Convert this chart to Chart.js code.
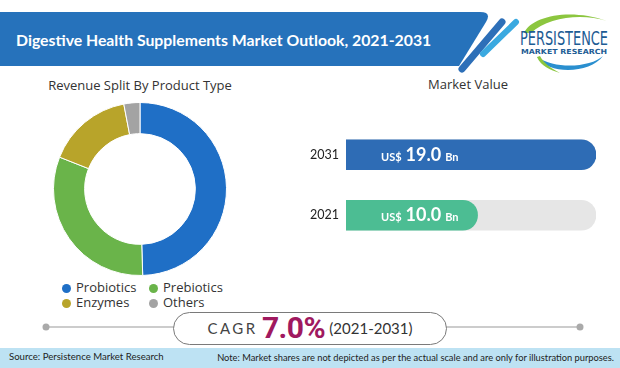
<!DOCTYPE html>
<html>
<head>
<meta charset="utf-8">
<script src="https://cdn.jsdelivr.net/npm/chart.js@4.4.1/dist/chart.umd.min.js"></script>
<style>
  html, body { margin: 0; padding: 0; }
  body { width: 620px; height: 368px; position: relative; overflow: hidden; background: #fff; font-family: 'Open Sans', sans-serif; color: #333; }
  .abs { position: absolute; }
  #title { left: 16px; top: 30px; color: #fff; font-family: Lato, sans-serif; font-weight: 700; font-size: 15.8px; white-space: nowrap; }
  .head { font-size: 13px; color: #333; white-space: nowrap; text-align: center; }
  .legend-item { font-size: 13px; color: #333; white-space: nowrap; }
  .legend-item span { display: inline-block; width: 9px; height: 9px; border-radius: 50%; margin-right: 5px; vertical-align: -0.5px; }
  #footer { left: 0; top: 348px; width: 620px; height: 20px; background: #bde2f3; }
  #footer div { position: absolute; font-family: Lato, sans-serif; color: #222; white-space: nowrap; }
  #cagr { left: 173px; top: 312px; width: 272px; height: 31px; border: 1px solid #7a7a7a; border-radius: 17px; background: #fff; }
</style>
</head>
<body>

<svg class="abs" style="left:0;top:0" width="620" height="90">
  <path d="M0 12 H480 Q492 12 486 22 L459 66 H0 Z" fill="#2672bb"/>
  <line x1="462" y1="69" x2="502" y2="22" stroke="#2d6fb8" stroke-width="7" stroke-linecap="round"/>
  <line x1="483" y1="54" x2="516" y2="22" stroke="#3aa9e0" stroke-width="6" stroke-linecap="round"/>
  <path d="M524 33 C532 16 570 8 607 21 C582 13 548 17 531 33 Z" fill="#8cc63f"/>
  <path d="M537 57 C548 75 590 74 603 56 C591 67 556 70 537 57 Z" fill="#2a8fcf"/>
  <path d="M537 57 C541 66 550 70 560 73 C550 68 543 62 540 56 Z" fill="#8cc63f"/>
  <text x="520" y="45" textLength="88" lengthAdjust="spacingAndGlyphs" font-family="'DejaVu Sans Condensed', 'Liberation Sans Narrow', sans-serif" font-size="19" fill="#1d5c94">PERSISTENCE</text>
  <text x="521" y="54" textLength="86" lengthAdjust="spacingAndGlyphs" font-family="'DejaVu Sans', sans-serif" font-weight="bold" font-size="7" fill="#1d5c94">MARKET RESEARCH</text>
  <line x1="43" y1="94" x2="233" y2="94" stroke="#bbb" stroke-width="1" stroke-dasharray="3,3"/>
  <circle cx="43" cy="94" r="2.5" fill="#aaa"/><circle cx="233" cy="94" r="2.5" fill="#aaa"/>
  <line x1="384" y1="94" x2="553" y2="94" stroke="#bbb" stroke-width="1" stroke-dasharray="3,3"/>
  <circle cx="384" cy="94" r="2.5" fill="#aaa"/><circle cx="553" cy="94" r="2.5" fill="#aaa"/>
</svg>
<div id="title" class="abs">Digestive Health Supplements Market Outlook, 2021-2031</div>

<div class="abs head" style="left:40px;top:76px;width:200px;">Revenue Split By Product Type</div>
<div class="abs head" style="left:418px;top:75px;width:100px;">Market Value</div>

<div class="abs" style="left:53px;top:102px;width:174px;height:174px;"><canvas id="donut"></canvas></div>
<div id="legend"></div>

<div class="abs" style="left:300px;top:110px;width:310px;height:150px;"><canvas id="bars"></canvas></div>

<svg class="abs" style="left:0;top:300px" width="620" height="50">
  <line x1="46" y1="27" x2="580" y2="27" stroke="#999" stroke-width="1"/>
  <circle cx="46" cy="27" r="3.5" fill="#aaa"/><circle cx="580" cy="27" r="3.5" fill="#aaa"/>
</svg>
<div id="cagr" class="abs"></div>
<div class="abs" style="left:173px;top:310px;width:274px;text-align:center;white-space:nowrap;">
  <span style="font-family:Lato,sans-serif;font-size:15px;letter-spacing:2.5px;color:#444;vertical-align:4px;">CAGR</span>
  <span style="font-family:'Roboto',sans-serif;font-weight:700;font-size:30px;color:#a0195f;letter-spacing:-0.5px;">7.0%</span>
  <span style="font-family:Lato,sans-serif;font-size:15px;color:#333;vertical-align:4px;">(2021-2031)</span>
</div>

<div id="footer" class="abs">
  <div style="left:9px;top:3px;font-size:9.6px;">Source: Persistence Market Research</div>
  <div style="right:6px;top:4px;font-size:9.3px;">Note: Market shares are not depicted as per the actual scale and are only for illustration purposes.</div>
</div>

<script>
const productTypes = ['Probiotics', 'Prebiotics', 'Enzymes', 'Others'];
const productShares = [49.5, 31.5, 16, 3];
const productColors = ['#1f6fc6', '#6ab44a', '#b8a42a', '#a3a3a3'];

const years = ['2031', '2021'];
const marketValues = [19.0, 10.0];
const barColors = ['#2e6cb5', '#4cbd93'];
const axisMax = 19;

// legend, 2 x 2 grid under the donut
const legendPos = [[62, 278], [149, 278], [62, 293], [149, 293]];
const legend = document.getElementById('legend');
productTypes.forEach((name, i) => {
    const d = document.createElement('div');
    d.className = 'abs legend-item';
    d.style.left = legendPos[i][0] + 'px';
    d.style.top = legendPos[i][1] + 'px';
    d.innerHTML = '<span style="background:' + productColors[i] + '"></span>' + name;
    legend.appendChild(d);
});

new Chart(document.getElementById('donut'), {
    type: 'doughnut',
    data: {
        labels: productTypes,
        datasets: [{
            data: productShares,
            backgroundColor: productColors,
            borderColor: '#ffffff',
            borderWidth: 1
        }]
    },
    options: {
        responsive: true,
        maintainAspectRatio: false,
        animation: false,
        cutout: '64%',
        plugins: {
            legend: { display: false },
            tooltip: { enabled: false }
        }
    }
});

const valueLabels = {
    id: 'valueLabels',
    afterDatasetsDraw(chart) {
        const ctx = chart.ctx;
        const meta = chart.getDatasetMeta(1);
        const left = chart.chartArea.left + 35;
        ctx.save();
        ctx.fillStyle = '#ffffff';
        ctx.textBaseline = 'alphabetic';
        meta.data.forEach((bar, i) => {
            const y = bar.y + 6;
            let x = left;
            ctx.font = 'bold 11px Lato, sans-serif';
            ctx.fillText('US$', x, y);
            x += ctx.measureText('US$').width + 4;
            ctx.font = 'bold 18px Lato, sans-serif';
            const num = marketValues[i].toFixed(1);
            ctx.fillText(num, x, y);
            x += ctx.measureText(num).width + 4;
            ctx.font = 'bold 11px Lato, sans-serif';
            ctx.fillText('Bn', x, y);
        });
        ctx.restore();
    }
};

new Chart(document.getElementById('bars'), {
    type: 'bar',
    data: {
        labels: years,
        datasets: [{
            data: years.map(() => axisMax),
            backgroundColor: '#e6e6e6',
            borderRadius: 15,
            borderSkipped: 'start',
            barThickness: 30,
            grouped: false,
            order: 2
        }, {
            data: marketValues,
            backgroundColor: barColors,
            borderRadius: 15,
            borderSkipped: 'start',
            barThickness: 30,
            grouped: false,
            order: 1
        }]
    },
    options: {
        indexAxis: 'y',
        responsive: true,
        maintainAspectRatio: false,
        animation: false,
        layout: { padding: { top: 7, bottom: 6, right: 14, left: 0 } },
        plugins: {
            legend: { display: false },
            tooltip: { enabled: false }
        },
        scales: {
            x: { display: false, min: 0, max: axisMax },
            y: {
                afterFit(scale) { scale.width = 46; },
                border: { display: false },
                grid: { display: false, drawTicks: false },
                ticks: {
                    padding: 7,
                    color: '#222',
                    font: { family: 'Lato', size: 12.5 }
                }
            }
        }
    },
    plugins: [valueLabels]
});
</script>
</body>
</html>
